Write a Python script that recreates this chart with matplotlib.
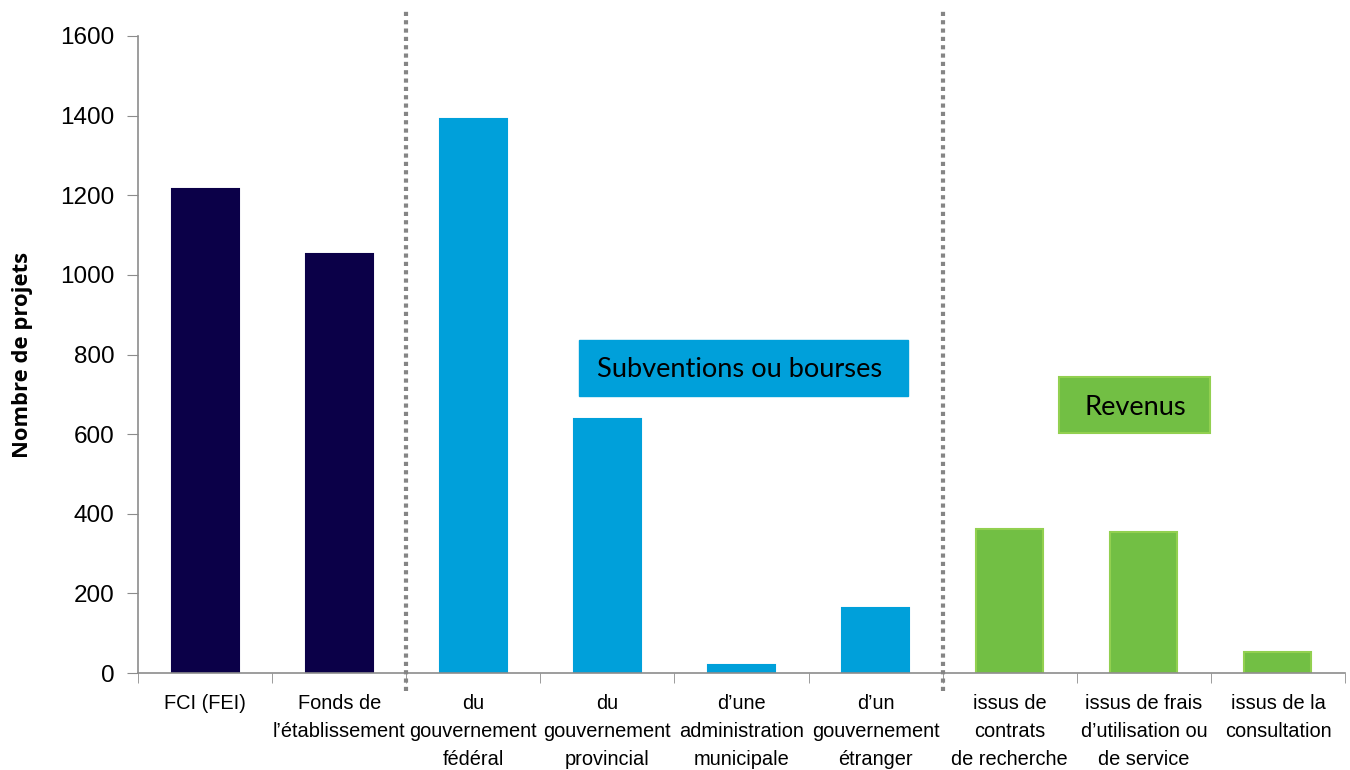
import matplotlib.pyplot as plt
from matplotlib.patches import Rectangle
import numpy as np

categories = [
    "FCI (FEI)",
    "Fonds de\nl\u2019établissement",
    "du\ngouvernement\nfédéral",
    "du\ngouvernement\nprovincial",
    "d\u2019une\nadministration\nmunicipale",
    "d\u2019un\ngouvernement\nétranger",
    "issus de\ncontrats\nde recherche",
    "issus de frais\nd\u2019utilisation ou\nde service",
    "issus de la\nconsultation",
]
values = [1216, 1052, 1392, 639, 19, 164, 362, 353, 53]
groups = ["fci", "fci", "sub", "sub", "sub", "sub", "rev", "rev", "rev"]

colors = {"fci": "#0B0048", "sub": "#00A0DA", "rev": "#72BF44"}
edges = {"fci": "#0B0048", "sub": "#00A0DA", "rev": "#92D050"}

fig = plt.figure(figsize=(13.5, 7.7), dpi=100)
ax = fig.add_axes([138 / 1350, 1 - 673 / 770, 1207 / 1350, 637 / 770])

x = np.arange(len(categories))
for i, (v, g) in enumerate(zip(values, groups)):
    ax.bar(x[i], v, width=0.5, color=colors[g], edgecolor=edges[g], linewidth=1.5)

ax.set_xlim(-0.5, len(categories) - 0.5)
ax.set_ylim(0, 1600)
ax.set_yticks(np.arange(0, 1601, 200))

# separators between the groups
for sx in [1.5, 5.5]:
    ax.plot([sx, sx], [-45, 1668], linestyle=(0, (1, 1)), linewidth=3,
            color="#858585", clip_on=False, zorder=5)

ax.set_xticks(x)
ax.set_xticklabels(categories, family="Liberation Sans", fontsize=14.4, linespacing=1.62)
ax.set_xticks(np.arange(-0.5, len(categories)), minor=True)
ax.tick_params(axis="x", which="major", length=0, pad=15)
ax.tick_params(axis="x", which="minor", length=7, color="#8C8C8C", direction="out")
ax.tick_params(axis="y", length=8, color="#8C8C8C", labelsize=17.5, pad=9)
for lab in ax.get_yticklabels():
    lab.set_family("Liberation Sans")

for side in ["top", "right"]:
    ax.spines[side].set_visible(False)
for side in ["left", "bottom"]:
    ax.spines[side].set_color("#8C8C8C")
    ax.spines[side].set_linewidth(1.2)

ax.set_ylabel("Nombre de projets", family="Open Sans", fontweight="bold", fontsize=15.8)
ax.yaxis.set_label_coords(-0.087, 0.5)

# group boxes
ax.add_patch(Rectangle((2.789, 696), 2.453, 141, facecolor="#00A0DA",
                       edgecolor="#00A0DA", zorder=3))
ax.text(3.985, 762, "Subventions ou bourses", family="Lato", fontsize=19.6,
        ha="center", va="center", zorder=4)
ax.add_patch(Rectangle((6.368, 603), 1.126, 141, facecolor="#72BF44",
                       edgecolor="#92D050", linewidth=1.5, zorder=3))
ax.text(6.935, 668, "Revenus", family="Lato", fontsize=19.6,
        ha="center", va="center", zorder=4)

fig.savefig("out.png", dpi=100)
